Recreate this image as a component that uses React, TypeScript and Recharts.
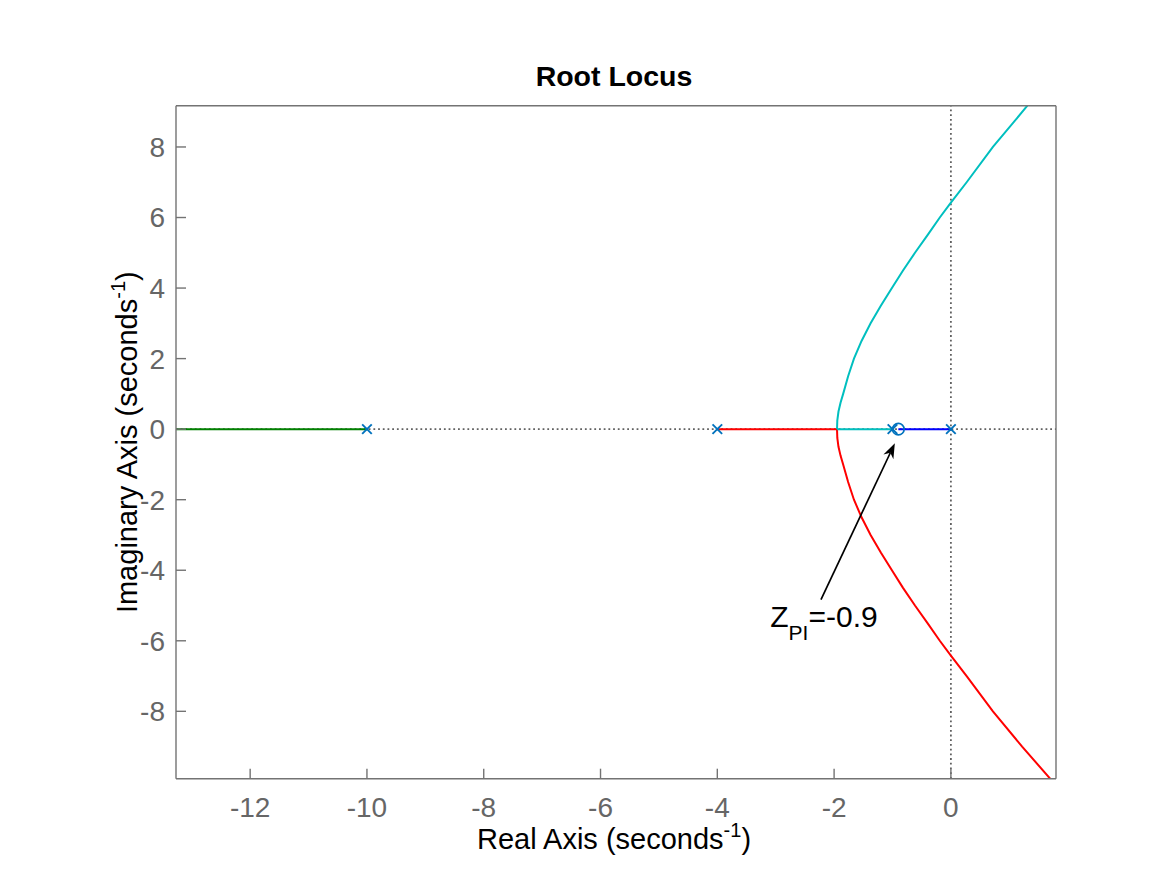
import React from 'react'
import { ComposedChart, Line, Scatter, XAxis, YAxis, ReferenceLine } from 'recharts'

const xTicks = [-12, -10, -8, -6, -4, -2, 0]
const yTicks = [-8, -6, -4, -2, 0, 2, 4, 6, 8]
const xDomain = [-13.27, 1.8]
const yDomain = [-9.91, 9.17]

// branches of the locus
const greenBranch = [
  { x: -13.27, y: 0 },
  { x: -10, y: 0 },
]
const blueBranch = [
  { x: -0.9, y: 0 },
  { x: 0, y: 0 },
]
const cyanReal = [
  { x: -1.95, y: 0 },
  { x: -1, y: 0 },
]
const redReal = [
  { x: -4, y: 0 },
  { x: -1.95, y: 0 },
]
const cyanCurve = [
  { x: -1.95, y: 0 },
  { x: -1.945, y: 0.25 },
  { x: -1.925, y: 0.5 },
  { x: -1.89, y: 0.75 },
  { x: -1.845, y: 1.0 },
  { x: -1.76, y: 1.5 },
  { x: -1.66, y: 2.0 },
  { x: -1.53, y: 2.5 },
  { x: -1.375, y: 3.0 },
  { x: -1.2, y: 3.5 },
  { x: -1.01, y: 4.0 },
  { x: -0.82, y: 4.5 },
  { x: -0.615, y: 5.0 },
  { x: -0.4, y: 5.5 },
  { x: -0.19, y: 6.0 },
  { x: 0, y: 6.42 },
  { x: 0.27, y: 7.0 },
  { x: 0.72, y: 8.0 },
  { x: 1.31, y: 9.17 },
]
const redCurve = [
  { x: -1.95, y: 0 },
  { x: -1.945, y: -0.25 },
  { x: -1.925, y: -0.5 },
  { x: -1.89, y: -0.75 },
  { x: -1.845, y: -1.0 },
  { x: -1.76, y: -1.5 },
  { x: -1.66, y: -2.0 },
  { x: -1.53, y: -2.5 },
  { x: -1.375, y: -3.0 },
  { x: -1.2, y: -3.5 },
  { x: -1.01, y: -4.0 },
  { x: -0.82, y: -4.5 },
  { x: -0.615, y: -5.0 },
  { x: -0.4, y: -5.5 },
  { x: -0.19, y: -6.0 },
  { x: 0, y: -6.42 },
  { x: 0.27, y: -7.0 },
  { x: 0.72, y: -8.0 },
  { x: 1.22, y: -9.0 },
  { x: 1.7, y: -9.91 },
]
const poles = [
  { x: 0, y: 0 },
  { x: -1, y: 0 },
  { x: -4, y: 0 },
  { x: -10, y: 0 },
]
const zeros = [{ x: -0.9, y: 0 }]
const arrowTail = { x: -2.225, y: -4.83 }
const arrowHead = { x: -0.96, y: -0.4 }

const FONT = '"Liberation Sans", Arial, Helvetica, sans-serif'
const AXIS = '#737373'
const TICK = '#666666'
const MARK = '#0072BD'

const XMark = (p: any) => {
  const { cx, cy } = p
  const s = 4.8
  return (
    <g stroke={MARK} strokeWidth={1.9}>
      <line x1={cx - s} y1={cy - s} x2={cx + s} y2={cy + s} />
      <line x1={cx - s} y1={cy + s} x2={cx + s} y2={cy - s} />
    </g>
  )
}

const OMark = (p: any) => (
  <circle cx={p.cx} cy={p.cy} r={5.8} fill="none" stroke={MARK} strokeWidth={1.7} />
)

const ArrowNote = (p: any) => {
  const { x1, y1, x2, y2 } = p
  const a = Math.atan2(y2 - y1, x2 - x1)
  const c = Math.cos(a)
  const s = Math.sin(a)
  const len = 15
  const half = 5.5
  const bx = x2 - len * c
  const by = y2 - len * s
  const nx = x2 - len * 0.7 * c
  const ny = y2 - len * 0.7 * s
  const pts = [
    [x2, y2],
    [bx + half * s, by - half * c],
    [nx, ny],
    [bx - half * s, by + half * c],
  ].map((q) => q.join(',')).join(' ')
  return (
    <g>
      <line x1={x1} y1={y1} x2={nx} y2={ny} stroke="#000" strokeWidth={1.7} />
      <polygon points={pts} fill="#000" />
      <text x={x1 + 3} y={y1 + 27} textAnchor="middle" fontSize={30} fill="#000" fontFamily={FONT}>
        Z<tspan fontSize={21} dy={13}>PI</tspan>
        <tspan dy={-13}>=-0.9</tspan>
      </text>
    </g>
  )
}

const XLabel = (p: any) => {
  const vb = p.viewBox
  return (
    <text x={vb.x + vb.width / 2 - 2} y={vb.y + 70} textAnchor="middle" fontSize={29} fill="#000" fontFamily={FONT}>
      Real Axis (seconds<tspan fontSize={20} dy={-12}>-1</tspan>
      <tspan dy={12}>)</tspan>
    </text>
  )
}

const YLabel = (p: any) => {
  const vb = p.viewBox
  const x = vb.x + 137
  const y = vb.y + vb.height / 2
  return (
    <text x={x} y={y} transform={`rotate(-90, ${x}, ${y})`} textAnchor="middle" fontSize={29} fill="#000" fontFamily={FONT}>
      Imaginary Axis (seconds<tspan fontSize={20} dy={-12}>-1</tspan>
      <tspan dy={12}>)</tspan>
    </text>
  )
}

const Title = (p: any) => {
  const vb = p.viewBox
  return (
    <text x={vb.x + vb.width / 2 - 2} y={vb.y - 19} textAnchor="middle" fontSize={28.5} fontWeight="bold" fill="#000" fontFamily={FONT}>
      Root Locus
    </text>
  )
}

const lineProps = { dataKey: 'y', type: 'linear' as const, strokeWidth: 2, dot: false, activeDot: false, isAnimationActive: false }

export default function App() {
  return (
    <div style={{ position: 'absolute', left: 0, top: 0, background: '#fff' }}>
      <ComposedChart
        width={1167}
        height={875}
        margin={{ top: 104.7, right: 110, bottom: 0, left: 0 }}
        style={{ fontFamily: FONT }}
      >
        <XAxis
          type="number"
          dataKey="x"
          domain={xDomain}
          ticks={xTicks}
          allowDataOverflow
          height={96.3}
          tickSize={-10}
          tickMargin={28}
          stroke={AXIS}
          strokeWidth={1.4}
          tick={{ fill: TICK, fontSize: 28 }}
          label={<XLabel />}
        />
        <XAxis
          xAxisId="top"
          orientation="top"
          type="number"
          dataKey="x"
          domain={xDomain}
          ticks={xTicks}
          allowDataOverflow
          height={1}
          tickSize={-10}
          stroke={AXIS}
          strokeWidth={1.4}
          tick={false}
          label={<Title />}
        />
        <YAxis
          type="number"
          domain={yDomain}
          ticks={yTicks}
          allowDataOverflow
          width={176}
          tickSize={-10}
          tickMargin={21}
          stroke={AXIS}
          strokeWidth={1.4}
          tick={{ fill: TICK, fontSize: 28 }}
          label={<YLabel />}
        />
        <YAxis
          yAxisId="right"
          orientation="right"
          type="number"
          domain={yDomain}
          ticks={yTicks}
          allowDataOverflow
          width={1}
          tickSize={-10}
          stroke={AXIS}
          strokeWidth={1.4}
          tick={false}
        />
        <ReferenceLine y={0} stroke="#606060" strokeWidth={1.8} strokeDasharray="1.8 2.9" />
        <ReferenceLine x={0} stroke="#606060" strokeWidth={1.8} strokeDasharray="1.8 2.9" />
        <Line {...lineProps} data={greenBranch} stroke="#008000" />
        <Line {...lineProps} data={redReal} stroke="#ff0000" />
        <Line {...lineProps} data={redCurve} stroke="#ff0000" />
        <Line {...lineProps} data={cyanReal} stroke="#00bfbf" />
        <Line {...lineProps} data={cyanCurve} stroke="#00bfbf" />
        <Line {...lineProps} data={blueBranch} stroke="#0000ff" />
        <Scatter data={poles} dataKey="y" shape={<XMark />} isAnimationActive={false} />
        <Scatter data={zeros} dataKey="y" shape={<OMark />} isAnimationActive={false} />
        <ReferenceLine segment={[arrowTail, arrowHead]} shape={(p: any) => <ArrowNote {...p} />} />
      </ComposedChart>
    </div>
  )
}
